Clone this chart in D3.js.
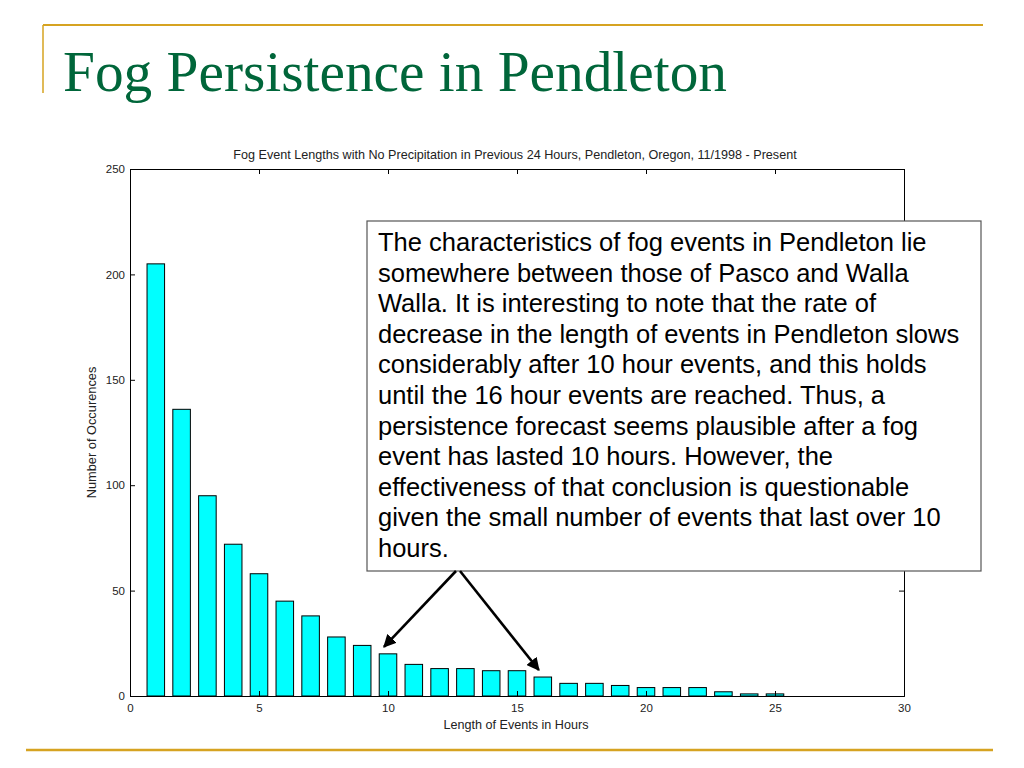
<!DOCTYPE html>
<html>
<head>
<meta charset="utf-8">
<script src="https://cdn.jsdelivr.net/npm/d3@7"></script>
<style>
  html, body { margin: 0; padding: 0; background: #fff; }
  svg { display: block; }
</style>
</head>
<body>
<script>
// ---- data ----
const hours = [1,2,3,4,5,6,7,8,9,10,11,12,13,14,15,16,17,18,19,20,21,22,23,24,25];
const counts = [205,136,95,72,58,45,38,28,24,20,15,13,13,12,12,9,6,6,5,4,4,4,2,1,1];
const xTicks = [0,5,10,15,20,25,30];
const yTicks = [0,50,100,150,200,250];
const slideTitle = "Fog Persistence in Pendleton";
const chartTitle = "Fog Event Lengths with No Precipitation in Previous 24 Hours, Pendleton, Oregon, 11/1998 - Present";
const xLabel = "Length of Events in Hours";
const yLabel = "Number of Occurences";
const noteLines = [
  "The characteristics of fog events in Pendleton lie",
  "somewhere between those of Pasco and Walla",
  "Walla. It is interesting to note that the rate of",
  "decrease in the length of events in Pendleton slows",
  "considerably after 10 hour events, and this holds",
  "until the 16 hour events are reached. Thus, a",
  "persistence forecast seems plausible after a fog",
  "event has lasted 10 hours. However, the",
  "effectiveness of that conclusion is questionable",
  "given the small number of events that last over 10",
  "hours."
];
const arrowTargets = [10, 16];

// ---- layout ----
const W = 1024, H = 768;
const svg = d3.select("body").append("svg").attr("width", W).attr("height", H);

const gold = "#d6a321";
svg.append("line").attr("x1", 43).attr("x2", 983).attr("y1", 25).attr("y2", 25)
  .attr("stroke", gold).attr("stroke-width", 2);
svg.append("line").attr("x1", 43).attr("x2", 43).attr("y1", 25).attr("y2", 93)
  .attr("stroke", gold).attr("stroke-width", 1.5);
svg.append("line").attr("x1", 26).attr("x2", 993).attr("y1", 750).attr("y2", 750)
  .attr("stroke", gold).attr("stroke-width", 2.5);

svg.append("text").attr("x", 63).attr("y", 91)
  .attr("font-family", "Liberation Serif, serif").attr("font-size", 56)
  .attr("fill", "#00663a")
  .attr("textLength", 664).attr("lengthAdjust", "spacingAndGlyphs")
  .text(slideTitle);

// plot area
const L = 130, R = 904, T = 169, B = 696;
const x = d3.scaleLinear().domain([0, 30]).range([L, R]);
const y = d3.scaleLinear().domain([0, 250]).range([B, T]);
const axisFont = "Liberation Sans, Arial, sans-serif";
const tickLen = 5;

const g = svg.append("g");

// bars
const bw = x(0.68) - x(0);
g.selectAll("rect.bar").data(hours.map((h, i) => ({h, c: counts[i]})))
  .enter().append("rect").attr("class", "bar")
  .attr("x", d => x(d.h) - bw / 2)
  .attr("y", d => y(d.c))
  .attr("width", bw)
  .attr("height", d => y(0) - y(d.c))
  .attr("fill", "#00ffff").attr("stroke", "#000").attr("stroke-width", 1);

// axes (inward ticks, mirrored)
const axB = g.append("g").attr("transform", `translate(0,${B})`)
  .call(d3.axisBottom(x).tickValues(xTicks).tickSize(-tickLen).tickPadding(8).tickFormat(d3.format("d")));
const axT = g.append("g").attr("transform", `translate(0,${T})`)
  .call(d3.axisTop(x).tickValues(xTicks).tickSize(-tickLen).tickFormat(""));
const axL = g.append("g").attr("transform", `translate(${L},0)`)
  .call(d3.axisLeft(y).tickValues(yTicks).tickSize(-tickLen).tickPadding(5).tickFormat(d3.format("d")));
const axR = g.append("g").attr("transform", `translate(${R},0)`)
  .call(d3.axisRight(y).tickValues(yTicks).tickSize(-tickLen).tickFormat(""));
[axB, axT, axL, axR].forEach(a => {
  a.select(".domain").attr("stroke", "#000").attr("stroke-width", 1);
  a.selectAll(".tick line").attr("stroke", "#000");
  a.selectAll("text").attr("font-family", axisFont).attr("font-size", 11.5).attr("fill", "#222");
});

// chart title and axis labels
svg.append("text").attr("x", 515).attr("y", 159).attr("text-anchor", "middle")
  .attr("font-family", axisFont).attr("font-size", 12.6).attr("fill", "#222").text(chartTitle);
svg.append("text").attr("x", 516).attr("y", 729).attr("text-anchor", "middle")
  .attr("font-family", axisFont).attr("font-size", 12.6).attr("fill", "#222").text(xLabel);
svg.append("text").attr("transform", `translate(96,${(T + B) / 2}) rotate(-90)`)
  .attr("text-anchor", "middle")
  .attr("font-family", axisFont).attr("font-size", 12.8).attr("fill", "#222").text(yLabel);

// note box
const bx = 367, by = 221, bwid = 614, bht = 350;
svg.append("rect").attr("x", bx).attr("y", by).attr("width", bwid).attr("height", bht)
  .attr("fill", "#fff").attr("stroke", "#555").attr("stroke-width", 1.2);
const nt = svg.append("text").attr("font-family", axisFont).attr("font-size", 25.5).attr("fill", "#000");
noteLines.forEach((s, i) => {
  nt.append("tspan").attr("x", 378).attr("y", 251 + i * 30.6).text(s);
});

// arrows
const defs = svg.append("defs");
defs.append("marker").attr("id", "ah").attr("viewBox", "0 0 10 10")
  .attr("refX", 9).attr("refY", 5).attr("markerWidth", 5).attr("markerHeight", 5)
  .attr("markerUnits", "strokeWidth").attr("orient", "auto")
  .append("path").attr("d", "M0,0 L10,5 L0,10 z").attr("fill", "#000");
const arrowStart = [[456, 571], [460, 571]];
arrowTargets.forEach((h, i) => {
  const idx = hours.indexOf(h);
  const tx = x(h) - 4;
  const ty = y(counts[idx]) - 7;
  svg.append("line").attr("x1", arrowStart[i][0]).attr("y1", arrowStart[i][1])
    .attr("x2", tx).attr("y2", ty)
    .attr("stroke", "#000").attr("stroke-width", 2.6).attr("marker-end", "url(#ah)");
});
</script>
</body>
</html>
